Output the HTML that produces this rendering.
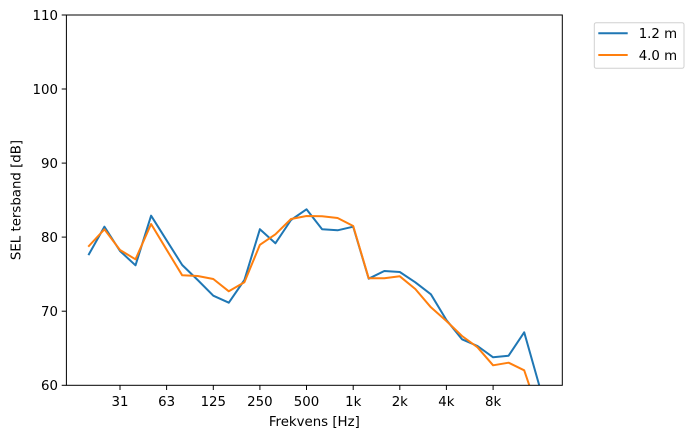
<!DOCTYPE html>
<html><head><meta charset="utf-8"><style>
html,body{margin:0;padding:0;background:#fff;}
svg{display:block;}
text{font-family:"DejaVu Sans","Liberation Sans",sans-serif;font-size:13.33px;fill:#000;}
</style></head><body>
<svg width="693" height="438" viewBox="0 0 693 438" xmlns="http://www.w3.org/2000/svg">
<defs><clipPath id="c"><rect x="66.4" y="15" width="495.9" height="370.3"/></clipPath></defs>
<rect width="693" height="438" fill="#fff"/>
<g clip-path="url(#c)" fill="none" stroke-width="2" stroke-linejoin="round" stroke-linecap="square">
<polyline stroke="#1f77b4" points="88.9,254.3 104.4,226.7 120,251 135.5,265.3 151.1,215.7 166.6,240.3 182.2,265 197.7,280 213.3,295.7 228.8,302.7 244.4,280 259.9,229.2 275.4,243.3 291,220 306.5,209.3 322.1,229.3 337.6,230.3 353.2,226.7 368.7,278.7 384.3,271 399.8,272 415.3,282.3 430.9,294.3 446.4,320 462,339.3 477.5,346 493.1,357.3 508.6,355.7 524.2,332.3 539.7,387"/>
<polyline stroke="#ff7f0e" points="88.9,246 104.4,229.3 120,250 135.5,259.3 151.1,224 166.6,249.7 182.2,275.3 197.7,276 213.3,279 228.8,291.3 244.4,282.3 259.9,244.8 275.4,234.3 291,219 306.5,216 322.1,216.3 337.6,218 353.2,226 368.7,278.3 384.3,278.3 399.8,276.3 415.3,289 430.9,307.3 446.4,321 462,336 477.5,347.3 493.1,365.3 508.6,362.7 524.2,370.3 539.7,416"/>
</g>
<rect x="66.4" y="15" width="495.9" height="370.3" fill="none" stroke="#000" stroke-width="1"/>
<g stroke="#000" stroke-width="1">
<line x1="61.7" y1="385.3" x2="66.4" y2="385.3"/>
<line x1="61.7" y1="311.2" x2="66.4" y2="311.2"/>
<line x1="61.7" y1="237.1" x2="66.4" y2="237.1"/>
<line x1="61.7" y1="163.1" x2="66.4" y2="163.1"/>
<line x1="61.7" y1="89" x2="66.4" y2="89"/>
<line x1="61.7" y1="15" x2="66.4" y2="15"/>
<line x1="120" y1="385.3" x2="120" y2="390"/>
<line x1="166.6" y1="385.3" x2="166.6" y2="390"/>
<line x1="213.3" y1="385.3" x2="213.3" y2="390"/>
<line x1="259.9" y1="385.3" x2="259.9" y2="390"/>
<line x1="306.5" y1="385.3" x2="306.5" y2="390"/>
<line x1="353.2" y1="385.3" x2="353.2" y2="390"/>
<line x1="399.8" y1="385.3" x2="399.8" y2="390"/>
<line x1="446.4" y1="385.3" x2="446.4" y2="390"/>
<line x1="493.1" y1="385.3" x2="493.1" y2="390"/>
</g>
<g text-anchor="end">
<text x="58" y="390.2">60</text>
<text x="58" y="316.1">70</text>
<text x="58" y="242">80</text>
<text x="58" y="168">90</text>
<text x="58" y="93.9">100</text>
<text x="58" y="19.9">110</text>
</g>
<g text-anchor="middle">
<text x="120" y="406">31</text>
<text x="166.6" y="406">63</text>
<text x="213.3" y="406">125</text>
<text x="259.9" y="406">250</text>
<text x="306.5" y="406">500</text>
<text x="353.2" y="406">1k</text>
<text x="399.8" y="406">2k</text>
<text x="446.4" y="406">4k</text>
<text x="493.1" y="406">8k</text>
<text x="314.3" y="426">Frekvens [Hz]</text>
<text transform="translate(20.5,200) rotate(-90)">SEL tersband [dB]</text>
</g>
<rect x="594.3" y="22.7" width="89.7" height="45.6" rx="2" fill="#fff" stroke="#d0d0d0" stroke-width="1"/>
<line x1="598.3" y1="33.3" x2="627.7" y2="33.3" stroke="#1f77b4" stroke-width="2"/>
<line x1="598.3" y1="55" x2="627.7" y2="55" stroke="#ff7f0e" stroke-width="2"/>
<text x="638.7" y="38.2">1.2 m</text>
<text x="638.7" y="59.9">4.0 m</text>
</svg>
</body></html>
